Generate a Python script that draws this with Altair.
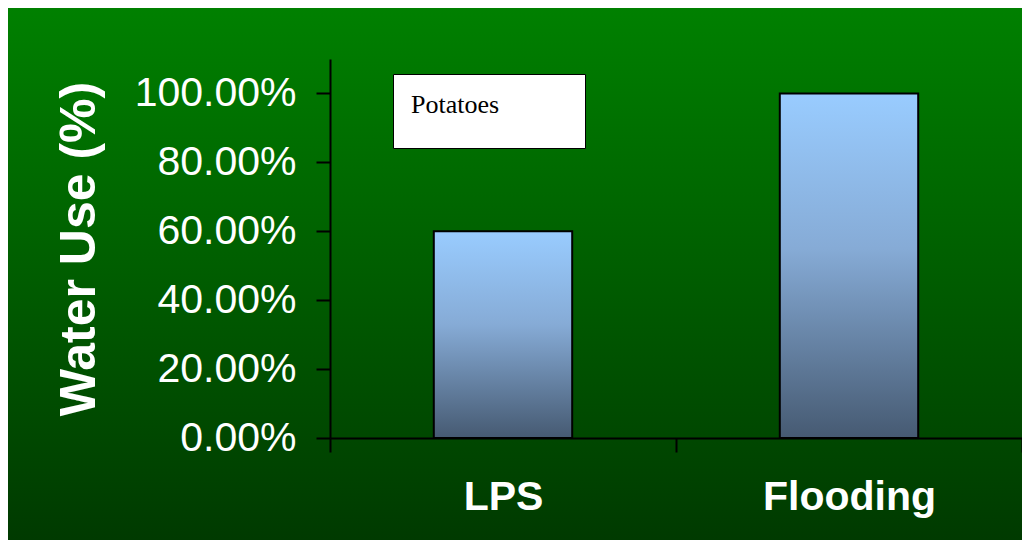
import altair as alt

categories = ["LPS", "Flooding"]
water_use = [0.60, 1.00]
series = ["Potatoes", "Potatoes"]
y_ticks = [0.0, 0.2, 0.4, 0.6, 0.8, 1.0]

rows = [{"method": c, "use": v, "crop": s} for c, v, s in zip(categories, water_use, series)]

W, H = 692, 379
PAD = {"left": 322, "top": 51, "right": 0, "bottom": 102}

bg_gradient = alt.LinearGradient(
    gradient="linear", x1=0, x2=0, y1=0, y2=1,
    stops=[alt.GradientStop(offset=0, color="#008000"),
           alt.GradientStop(offset=1, color="#003a00")],
)
bar_gradient = alt.LinearGradient(
    gradient="linear", x1=0, x2=0, y1=0, y2=1,
    stops=[alt.GradientStop(offset=0, color="#99ccff"),
           alt.GradientStop(offset=0.45, color="#86abd6"),
           alt.GradientStop(offset=1, color="#465a72")],
)

background = alt.Chart(alt.Data(values=[{"bg": 1}])).mark_rect(
    fill=bg_gradient, clip=False
).encode(
    x=alt.value(-PAD["left"]),
    x2=alt.value(W + PAD["right"]),
    y=alt.value(-PAD["top"]),
    y2=alt.value(H + PAD["bottom"]),
)

bars = alt.Chart(alt.Data(values=rows)).mark_bar(
    fill=bar_gradient, stroke="black", strokeWidth=2,
    width=alt.RelativeBandSize(0.4),
).encode(
    x=alt.X("method:N", sort=categories, title=None,
            scale=alt.Scale(paddingInner=0, paddingOuter=0),
            axis=alt.Axis(labelAngle=0, labelFont="Liberation Sans", labelFontSize=41,
                          labelFontWeight="bold", labelColor="white", labelPadding=25,
                          tickBand="extent", tickSize=14, tickWidth=2, tickColor="black",
                          domainColor="black", domainWidth=2, zindex=1)),
    y=alt.Y("use:Q", title="Water Use (%)",
            scale=alt.Scale(domain=[0, 1.1], nice=False),
            axis=alt.Axis(values=y_ticks, format=".2%", grid=False,
                          labelFont="Liberation Sans", labelFontSize=41, labelColor="white",
                          labelPadding=20, tickSize=14, tickWidth=2, tickColor="black",
                          domainColor="black", domainWidth=2,
                          titleFont="Liberation Sans", titleFontSize=50, titleFontWeight="bold",
                          titleColor="white", titlePadding=30, zindex=1)),
    opacity=alt.Opacity("crop:N",
                        scale=alt.Scale(domain=[series[0]], range=[1]),
                        legend=alt.Legend(title=series[0], titleOrient="top", titleAnchor="start",
                                          titleFont="Liberation Serif", titleFontSize=26,
                                          titleFontWeight="normal", titleColor="black",
                                          titlePadding=0,
                                          orient="none", legendX=63, legendY=15,
                                          fillColor="white", strokeColor="black", padding=18,
                                          symbolSize=0, symbolOpacity=0, symbolStrokeWidth=0,
                                          labelOffset=144, labelFontSize=12,
                                          labelExpr="''")),
)

chart = alt.layer(background, bars).properties(
    width=W, height=H, padding=PAD,
    autosize=alt.AutoSizeParams(type="none"),
).configure_view(stroke=None)

chart.save("out.html", embed_options={"renderer": "svg", "actions": False})
